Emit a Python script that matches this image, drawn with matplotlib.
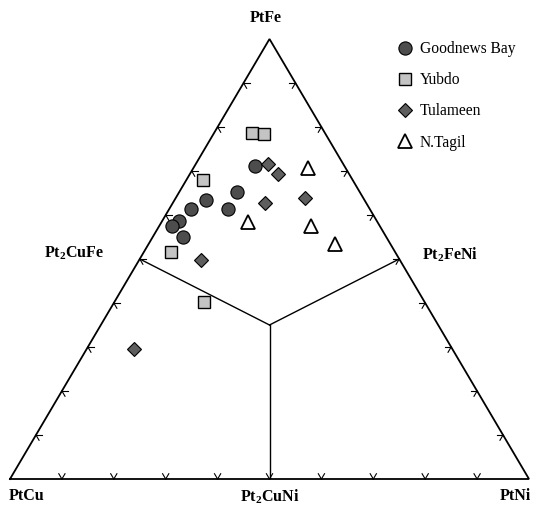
import matplotlib
matplotlib.use('Agg')
import matplotlib.pyplot as plt
import numpy as np

plt.rcParams['font.family'] = ['Liberation Serif', 'DejaVu Serif']
plt.rcParams['mathtext.fontset'] = 'custom'
plt.rcParams['mathtext.rm'] = 'Liberation Serif:bold'
plt.rcParams['mathtext.bf'] = 'Liberation Serif:bold'

# compositions as fractions (PtFe, PtCu, PtNi)
goodnews_fe = [0.712, 0.653, 0.634, 0.614, 0.614, 0.587, 0.576, 0.549]
goodnews_ni = [0.116, 0.111, 0.060, 0.042, 0.113, 0.033, 0.025, 0.059]

yubdo_fe = [0.787, 0.783, 0.680, 0.515, 0.403]
yubdo_ni = [0.072, 0.098, 0.031, 0.052, 0.172]

tulameen_fe = [0.716, 0.693, 0.627, 0.639, 0.498, 0.295]
tulameen_ni = [0.140, 0.169, 0.178, 0.248, 0.119, 0.092]

tagil_fe = [0.706, 0.583, 0.576, 0.533]
tagil_ni = [0.222, 0.167, 0.291, 0.359]

# point where the three boundary lines meet
junction = (0.35, 0.325, 0.325)


def to_xy(fe, ni):
    fe = np.asarray(fe)
    ni = np.asarray(ni)
    return ni + fe / 2.0, fe


def main():
    fig = plt.figure(figsize=(5.33, 5.12), dpi=100)
    ax = fig.add_axes([10 / 533, (512 - 479) / 512, 519 / 533, 440 / 512])
    ax.set_xlim(0, 1)
    ax.set_ylim(0, 1)
    ax.axis('off')

    # triangle outline
    tx, ty = to_xy([0, 1, 0, 0], [0, 0, 1, 0])
    ax.plot(tx, ty, color='black', lw=1.3, clip_on=False, solid_joinstyle='miter')

    # ticks: two short arms into the triangle, parallel to the other edges
    d = 0.012
    for t in np.arange(1, 10) / 10.0:
        # bottom edge (fe = 0)
        for dfe, dni in [(d, 0), (d, -d)]:
            x, y = to_xy([0, dfe], [t, t + dni])
            ax.plot(x, y, color='black', lw=0.8, clip_on=False)
        # left edge (ni = 0)
        for dfe, dni in [(0, d), (-d, d)]:
            x, y = to_xy([t, t + dfe], [0, dni])
            ax.plot(x, y, color='black', lw=0.8, clip_on=False)
        # right edge (cu = 0)
        for dfe, dni in [(0, -d), (-d, 0)]:
            x, y = to_xy([t, t + dfe], [1 - t, 1 - t + dni])
            ax.plot(x, y, color='black', lw=0.8, clip_on=False)

    # boundary lines from edge midpoints to the junction
    jx, jy = to_xy([junction[0]], [junction[2]])
    for fe, ni in [(0.5, 0.0), (0.5, 0.5), (0.0, 0.5)]:
        mx, my = to_xy([fe], [ni])
        ax.plot([mx[0], jx[0]], [my[0], jy[0]], color='black', lw=1.0)

    # data
    x, y = to_xy(goodnews_fe, goodnews_ni)
    ax.plot(x, y, 'o', ms=9.5, mfc='#4d4d4d', mec='black', mew=0.8,
            label='Goodnews Bay', clip_on=False)
    x, y = to_xy(yubdo_fe, yubdo_ni)
    ax.plot(x, y, 's', ms=8.5, mfc='#c4c4c4', mec='black', mew=1.0,
            label='Yubdo', clip_on=False)
    x, y = to_xy(tulameen_fe, tulameen_ni)
    ax.plot(x, y, 'D', ms=7.2, mfc='#5e5e5e', mec='black', mew=0.8,
            label='Tulameen', clip_on=False)
    x, y = to_xy(tagil_fe, tagil_ni)
    ax.plot(x, y, '^', ms=9.5, mfc='white', mec='black', mew=1.3,
            label='N.Tagil', clip_on=False)

    # corner and midpoint labels
    lab = dict(fontsize=11.5, fontweight='bold', ha='center', va='center')
    fig.text(266 / 533, 1 - 18 / 512, 'PtFe', **lab)
    fig.text(27 / 533, 1 - 496 / 512, 'PtCu', **lab)
    fig.text(515 / 533, 1 - 496 / 512, 'PtNi', **lab)
    fig.text(270 / 533, 1 - 497 / 512, 'Pt$_2$CuNi', **lab)
    fig.text(74 / 533, 1 - 253 / 512, 'Pt$_2$CuFe', **lab)
    fig.text(450 / 533, 1 - 255 / 512, 'Pt$_2$FeNi', **lab)

    fig.legend(loc='upper left', bbox_to_anchor=(397 / 533, 1 - 41 / 512),
               frameon=False, fontsize=11.2, handlelength=1.0,
               handletextpad=0.45, labelspacing=0.98, borderpad=0,
               borderaxespad=0)

    fig.savefig('out.png', dpi=100)


if __name__ == "__main__":
    main()
